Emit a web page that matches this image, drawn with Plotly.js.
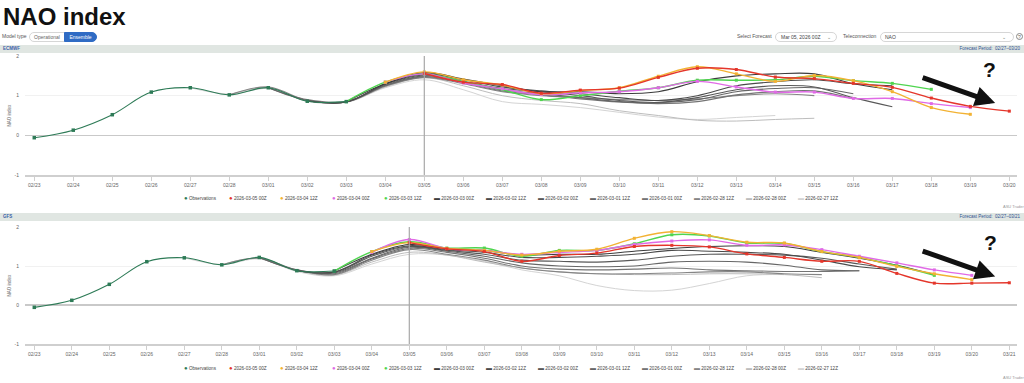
<!DOCTYPE html>
<html><head><meta charset="utf-8">
<script src="https://cdn.plot.ly/plotly-3.0.1.min.js"></script>
<style>
html,body{margin:0;padding:0;background:#fff;width:1024px;height:383px;overflow:hidden;font-family:"Liberation Sans",Arial,sans-serif;}
.abs{position:absolute;}
#title{left:3px;top:5px;font-size:24px;font-weight:bold;line-height:24px;color:#111;}
.tiny{font-size:5px;color:#555;line-height:9px;white-space:nowrap;}
.pill{border:1px solid #d6d6d6;border-radius:5px;height:8px;line-height:8px;font-size:5px;text-align:center;}
.bar{left:0;width:1024px;height:8px;background:#e0e6e2;}
.bar .l{position:absolute;left:3px;top:0;font-size:4.5px;line-height:8px;color:#3a62a8;font-weight:bold;}
.bar .r{position:absolute;right:4px;top:0;font-size:4.5px;line-height:8px;color:#2e4f8f;}
.chart{left:0;width:1024px;}
</style></head>
<body>
<div id="title" class="abs">NAO index</div>
<div class="abs tiny" style="left:2px;top:32px;">Model type</div>
<div class="abs pill" style="left:29px;top:32px;width:34px;background:#fff;color:#666;border-radius:5px 0 0 5px;">Operational</div>
<div class="abs pill" style="left:64px;top:32px;width:31px;background:#2f6bc4;color:#fff;border-color:#2f6bc4;border-radius:0 5px 5px 0;">Ensemble</div>

<div class="abs tiny" style="left:737px;top:32px;">Select Forecast</div>
<div class="abs pill" style="left:775px;top:32px;width:60px;text-align:left;color:#444;border-radius:5px;"><span style="margin-left:5px">Mar 05, 2026 00Z</span><span style="position:absolute;right:5px;color:#777">&#8964;</span></div>
<div class="abs tiny" style="left:843px;top:32px;">Teleconnection</div>
<div class="abs pill" style="left:880px;top:32px;width:132px;text-align:left;color:#444;border-radius:5px;"><span style="margin-left:4px">NAO</span><span style="position:absolute;right:7px;color:#777">&#8964;</span></div>
<div class="abs" style="left:1016px;top:33px;width:7px;height:7px;border:1px solid #888;border-radius:50%;font-size:5px;line-height:7px;text-align:center;color:#666;box-sizing:border-box;">?</div>

<div class="abs bar" style="top:45px;"><span class="l">ECMWF</span><span class="r">Forecast Period:&nbsp; 02/27–03/20</span></div>
<div id="c1" class="abs chart" style="top:52px;height:160px;"></div>
<div class="abs tiny" style="left:1003px;top:202px;font-size:4px;color:#999">ASU Trader</div>

<div class="abs bar" style="top:213px;"><span class="l">GFS</span><span class="r">Forecast Period:&nbsp; 02/27–03/21</span></div>
<div id="c2" class="abs chart" style="top:221px;height:162px;"></div>
<div class="abs tiny" style="left:1003px;top:373px;font-size:4px;color:#999">ASU Trader</div>

<script>
// ---------- DATA ----------
const dates = ['2026-02-23','2026-02-24','2026-02-25','2026-02-26','2026-02-27','2026-02-28',
  '2026-03-01','2026-03-02','2026-03-03','2026-03-04','2026-03-05','2026-03-06','2026-03-07',
  '2026-03-08','2026-03-09','2026-03-10','2026-03-11','2026-03-12','2026-03-13','2026-03-14',
  '2026-03-15','2026-03-16','2026-03-17','2026-03-18','2026-03-19','2026-03-20','2026-03-21'];
const tickLabels = ['02/23','02/24','02/25','02/26','02/27','02/28','03/01','03/02','03/03','03/04',
  '03/05','03/06','03/07','03/08','03/09','03/10','03/11','03/12','03/13','03/14','03/15','03/16',
  '03/17','03/18','03/19','03/20','03/21'];

const runNames = ['2026-03-05 00Z','2026-03-04 12Z','2026-03-04 00Z','2026-03-03 12Z','2026-03-03 00Z',
  '2026-03-02 12Z','2026-03-02 00Z','2026-03-01 12Z','2026-03-01 00Z','2026-02-28 12Z','2026-02-28 00Z','2026-02-27 12Z'];
// index into dates where each run starts
const runStart = [10, 9, 9, 8, 8, 7, 7, 6, 6, 5, 5, 4];

// ECMWF
const ecObs     = [-0.06, 0.13, 0.52, 1.09, 1.20, 1.02, 1.20, 0.86, 0.85];
const ec0305_00 = [1.56, 1.34, 1.28, 1.06, 1.14, 1.19, 1.46, 1.69, 1.66, 1.47, 1.43, 1.31, 1.21, 0.94, 0.73, 0.61];
const ec0304_12 = [1.34, 1.60, 1.40, 1.27, 1.05, 1.13, 1.20, 1.49, 1.73, 1.55, 1.36, 1.51, 1.38, 1.10, 0.70, 0.53];
const ec0304_00 = [1.34, 1.55, 1.32, 1.17, 1.03, 1.07, 1.10, 1.20, 1.36, 1.22, 1.09, 1.09, 0.93, 0.93, 0.80, 0.70];
const ec0303_12 = [0.85, 1.34, 1.55, 1.35, 1.15, 0.90, 1.00, 1.11, 1.20, 1.39, 1.39, 1.40, 1.49, 1.38, 1.31, 1.16];
const ec0303_00 = [0.85, 1.30, 1.58, 1.42, 1.25, 1.10, 1.10, 1.05, 1.10, 1.35, 1.50, 1.55, 1.55, 1.30, 1.15];
const ec0302_12 = [0.87, 0.84, 1.30, 1.55, 1.40, 1.22, 1.12, 1.05, 0.95, 0.88, 1.00, 1.25, 1.35, 1.40, 1.30, 1.25];
const ec0302_00 = [0.87, 0.84, 1.28, 1.52, 1.36, 1.18, 1.10, 1.00, 0.88, 0.83, 0.95, 1.15, 1.25, 1.22, 0.95, 0.72];
const ec0301_12 = [1.20, 0.88, 0.84, 1.26, 1.50, 1.35, 1.15, 1.05, 0.95, 0.85, 0.82, 0.90, 1.10, 1.18, 1.20, 1.05];
const ec0301_00 = [1.20, 0.90, 0.85, 1.25, 1.48, 1.32, 1.12, 1.02, 0.92, 0.84, 0.80, 0.85, 1.02, 1.10, 1.12, 0.92];
const ec0228_12 = [1.02, 1.22, 0.88, 0.84, 1.24, 1.46, 1.30, 1.10, 1.00, 0.95, 0.90, 0.88, 0.92, 1.00, 1.05, 1.00];
const ec0228_00 = [1.02, 1.20, 0.86, 0.84, 1.22, 1.45, 1.25, 1.00, 0.88, 0.80, 0.62, 0.50, 0.38, 0.36, 0.40, 0.43];
const ec0227_12 = [1.20, 1.04, 1.18, 0.88, 0.83, 1.20, 1.40, 1.15, 0.85, 0.78, 0.70, 0.58, 0.46, 0.40, 0.45, 0.50];

// GFS
const gfsObs     = [-0.06, 0.12, 0.53, 1.11, 1.21, 1.03, 1.22, 0.88, 0.87];
const gfs0305_00 = [1.60, 1.44, 1.37, 1.12, 1.27, 1.33, 1.50, 1.53, 1.49, 1.31, 1.22, 1.12, 1.12, 0.81, 0.56, 0.56, 0.57];
const gfs0304_12 = [1.37, 1.60, 1.45, 1.40, 1.28, 1.38, 1.43, 1.71, 1.88, 1.78, 1.61, 1.59, 1.37, 1.22, 0.99, 0.80, 0.65];
const gfs0304_00 = [1.35, 1.68, 1.45, 1.40, 1.30, 1.35, 1.40, 1.55, 1.64, 1.67, 1.53, 1.54, 1.42, 1.25, 1.08, 0.90, 0.76];
const gfs0303_12 = [0.87, 1.37, 1.62, 1.46, 1.46, 1.25, 1.40, 1.40, 1.57, 1.80, 1.77, 1.59, 1.58, 1.37, 1.22, 1.01, 0.76];
const gfs0303_00 = [0.87, 1.30, 1.55, 1.45, 1.40, 1.28, 1.30, 1.30, 1.38, 1.45, 1.50, 1.52, 1.50, 1.35, 1.20, 1.02, 0.78];
const gfs0302_12 = [0.88, 0.85, 1.28, 1.52, 1.42, 1.35, 1.22, 1.22, 1.25, 1.30, 1.40, 1.38, 1.35, 1.30, 1.15, 0.98, 0.90];
const gfs0302_00 = [0.88, 0.84, 1.25, 1.50, 1.40, 1.30, 1.15, 1.12, 1.10, 1.15, 1.25, 1.30, 1.30, 1.28, 1.20, 1.05, 0.92];
const gfs0301_12 = [1.22, 0.90, 0.82, 1.20, 1.48, 1.38, 1.25, 1.08, 1.00, 0.98, 1.00, 1.10, 1.12, 1.10, 1.02, 0.90, 0.88];
const gfs0301_00 = [1.22, 0.90, 0.80, 1.18, 1.45, 1.35, 1.20, 1.00, 0.92, 0.90, 0.92, 0.95, 0.90, 0.88, 0.86, 0.86, 0.88];
const gfs0228_12 = [1.03, 1.20, 0.90, 0.78, 1.15, 1.42, 1.30, 1.15, 0.95, 0.85, 0.80, 0.80, 0.82, 0.85, 0.85, 0.80, 0.78];
const gfs0228_00 = [1.03, 1.20, 0.88, 0.77, 1.10, 1.35, 1.28, 1.10, 0.95, 0.85, 0.80, 0.78, 0.78, 0.80, 0.80, 0.78, 0.70];
const gfs0227_12 = [1.21, 1.04, 1.18, 0.86, 0.75, 1.05, 1.30, 1.28, 1.12, 0.90, 0.75, 0.50, 0.37, 0.38, 0.55, 0.75, 0.78];

const ecRuns  = [ec0305_00, ec0304_12, ec0304_00, ec0303_12, ec0303_00, ec0302_12, ec0302_00, ec0301_12, ec0301_00, ec0228_12, ec0228_00, ec0227_12];
const gfsRuns = [gfs0305_00, gfs0304_12, gfs0304_00, gfs0303_12, gfs0303_00, gfs0302_12, gfs0302_00, gfs0301_12, gfs0301_00, gfs0228_12, gfs0228_00, gfs0227_12];

// ---------- STYLE ----------
const obsColor = '#2e7b57';
const runColors = ['#e4362b','#f2b233','#e06ae6','#4fd54f','#3c3c3c','#4a4a4a','#585858','#666666','#747474','#858585','#bdbdbd','#d4d4d4'];
const runWidths = [1.4,1.4,1.4,1.4,1.1,1.1,1.1,1.1,1.1,1.1,1.0,1.0];
const runMarked = [true,true,true,true,false,false,false,false,false,false,false,false];
const FONT = '"Liberation Sans", Arial, sans-serif';
const DAY = 864e5;
const t0 = Date.parse(dates[0] + 'T00:00:00Z');

function buildTraces(obs, runs) {
  const traces = [];
  // draw lightest first, red last, observations on top
  for (let i = runs.length - 1; i >= 0; i--) {
    const s = runStart[i];
    traces.push({
      type: 'scatter', mode: runMarked[i] ? 'lines+markers' : 'lines',
      name: runNames[i], x: dates.slice(s, s + runs[i].length), y: runs[i],
      line: {color: runColors[i], width: runWidths[i], shape: 'spline', smoothing: 1},
      marker: {color: runColors[i], size: 3, symbol: 'square'},
      hoverinfo: 'skip', showlegend: false
    });
  }
  traces.push({
    type: 'scatter', mode: 'lines+markers', name: 'Observations',
    x: dates.slice(0, obs.length), y: obs,
    line: {color: obsColor, width: 1.1, shape: 'spline', smoothing: 1},
    marker: {color: obsColor, size: 3.5, symbol: 'square'},
    hoverinfo: 'skip', showlegend: false
  });
  return traces;
}

function legendAnns(plotLeft, plotW, yPaper) {
  const xs = [185, 230, 281, 333, 385, 435, 487, 539, 591, 643, 695, 747, 799];
  const names = ['Observations'].concat(runNames);
  const cols = [obsColor].concat(runColors);
  const marked = [true].concat(runMarked);
  return names.map((n, i) => ({
    xref: 'paper', yref: 'paper', x: (xs[i] - 3 - plotLeft) / plotW, y: yPaper,
    xanchor: 'left', yanchor: 'middle', showarrow: false,
    text: (marked[i] ? '<span style="color:' + cols[i] + ';font-size:6px">●</span>'
                     : '<span style="color:' + cols[i] + ';font-size:6px">▬</span>') + ' ' + n,
    font: {family: FONT, size: 4.6, color: '#444'}
  }));
}

function layoutFor(nTicks, rangeDays, top, plotH, height, legY, arrowHead, qPos) {
  const plotLeft = 25, plotW = 992;
  return {
    width: 1024, height: height,
    margin: {l: plotLeft, r: 1024 - plotLeft - plotW, t: top, b: height - top - plotH, pad: 0},
    paper_bgcolor: 'rgba(0,0,0,0)', plot_bgcolor: '#fff',
    font: {family: FONT, size: 5, color: '#666'},
    showlegend: false,
    xaxis: {
      type: 'date', range: [t0 + rangeDays[0] * DAY, t0 + rangeDays[1] * DAY],
      tickvals: dates.slice(0, nTicks), ticktext: tickLabels.slice(0, nTicks),
      showgrid: false, zeroline: false, showline: true, linecolor: '#cfcfcf', linewidth: 1.5,
      ticks: 'outside', ticklen: 4, tickcolor: '#cfcfcf', tickwidth: 1,
      tickfont: {family: FONT, size: 5, color: '#666'}, fixedrange: true
    },
    yaxis: {
      range: [-1, 2], tickvals: [-1, 0, 1, 2], ticktext: ['-1', '0', '1', '2'],
      showgrid: true, gridcolor: '#f1f1f1', gridwidth: 1,
      zeroline: true, zerolinecolor: '#c9c9c9', zerolinewidth: 1.5,
      showline: false, ticks: '', ticklabelstandoff: 5,
      tickfont: {family: FONT, size: 5, color: '#666'},
      title: {text: 'NAO index', font: {family: FONT, size: 4.5, color: '#666'}, standoff: 2},
      fixedrange: true
    },
    shapes: [{type: 'line', xref: 'x', yref: 'paper', x0: dates[10], x1: dates[10], y0: 0, y1: 1,
              line: {color: '#a8a8a8', width: 1.2}}],
    annotations: legendAnns(plotLeft, plotW, legY).concat([
      {xref: 'paper', yref: 'paper', x: arrowHead[0], y: arrowHead[1], ax: -74, ay: -26,
       axref: 'pixel', ayref: 'pixel', showarrow: true, arrowhead: 2, arrowsize: 0.8,
       arrowwidth: 5, arrowcolor: '#111', text: '', standoff: 0},
      {xref: 'paper', yref: 'paper', x: qPos[0], y: qPos[1], showarrow: false, text: '<b>?</b>',
       font: {family: FONT, size: 21, color: '#111'}, xanchor: 'center', yanchor: 'middle'}
    ])
  };
}

const cfg = {displayModeBar: false, staticPlot: true};
Plotly.newPlot('c1', buildTraces(ecObs, ecRuns),
  layoutFor(26, [-0.238, 25.197], 4, 119.5, 160, -0.19, [0.978, 0.604], [0.972, 0.885]), cfg);
Plotly.newPlot('c2', buildTraces(gfsObs, gfsRuns),
  layoutFor(27, [-0.248, 26.205], 6.3, 116.7, 162, -0.205, [0.978, 0.577], [0.973, 0.868]), cfg);
</script>
</body></html>
